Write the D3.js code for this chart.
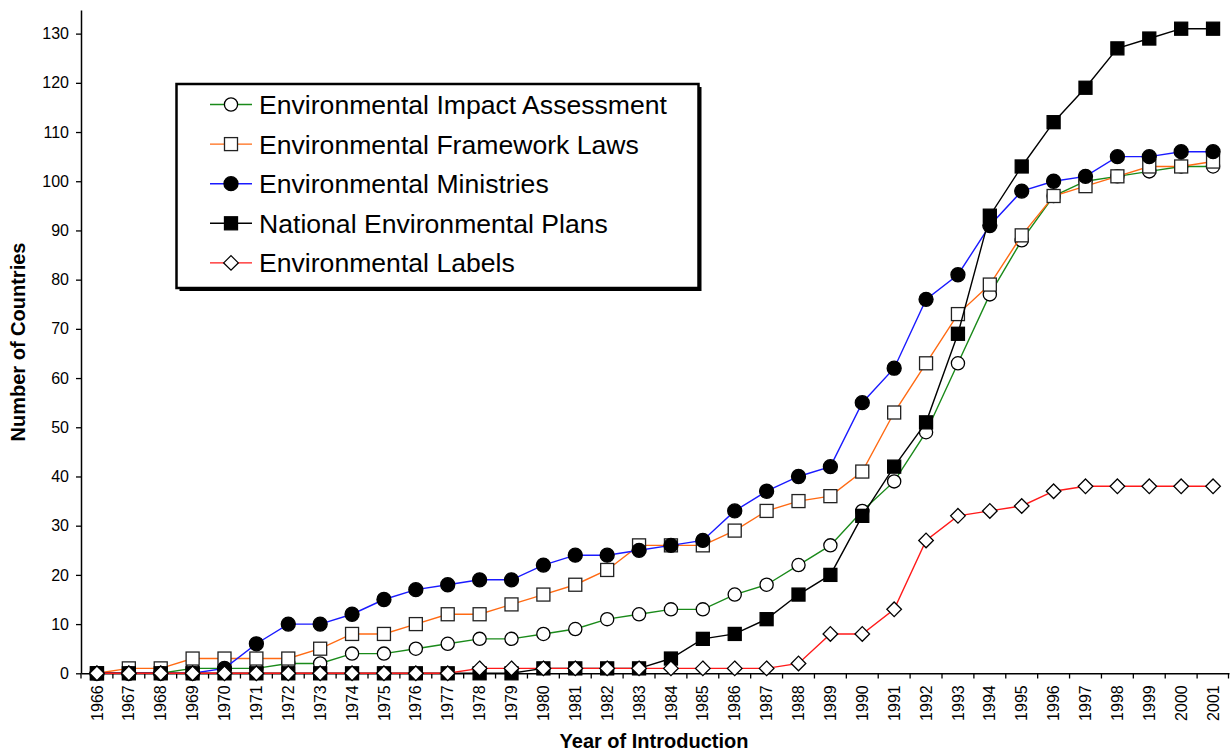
<!DOCTYPE html>
<html lang="en">
<head>
    <meta charset="UTF-8">
    <title>Environmental Policy Innovations</title>
    <script src="https://cdnjs.cloudflare.com/ajax/libs/d3/7.8.5/d3.min.js"></script>
    <style>
        body { margin: 0; background: #fff; }
        svg { display: block; font-family: "Liberation Sans", Arial, sans-serif; }
    </style>
</head>
<body>
    <div id="chart"></div>

    <script>
        // Years on the category axis
        const years = d3.range(1966, 2002);

        // Cumulative number of countries per year
        const eia = [0,0,0,1,1,1,2,2,4,4,5,6,7,7,8,9,11,12,13,13,16,18,22,26,33,39,49,63,77,88,97,100,101,102,103,103];
        const frameworkLaws = [0,1,1,3,3,3,3,5,8,8,10,12,12,14,16,18,21,26,26,26,29,33,35,36,41,53,63,73,79,89,97,99,101,103,103,104];
        const ministries = [0,0,0,0,1,6,10,10,12,15,17,18,19,19,22,24,24,25,26,27,33,37,40,42,55,62,76,81,91,98,100,101,105,105,106,106];
        const nationalPlans = [0,0,0,0,0,0,0,0,0,0,0,0,0,0,1,1,1,1,3,7,8,11,16,20,32,42,51,69,93,103,112,119,127,129,131,131];
        const labels = [0,0,0,0,0,0,0,0,0,0,0,0,1,1,1,1,1,1,1,1,1,1,2,8,8,13,27,32,33,34,37,38,38,38,38,38];

        const yTicks = d3.range(0, 131, 10);

        const seriesNames = ["Environmental Impact Assessment", "Environmental Framework Laws",
            "Environmental Ministries", "National Environmental Plans", "Environmental Labels"];

        const series = [
            { name: seriesNames[0], values: eia, color: "#1a8a1a", marker: "circle", fill: "#fff" },
            { name: seriesNames[1], values: frameworkLaws, color: "#ff6a13", marker: "square", fill: "#fff" },
            { name: seriesNames[2], values: ministries, color: "#1a1aff", marker: "circle", fill: "#000" },
            { name: seriesNames[3], values: nationalPlans, color: "#000", marker: "square", fill: "#000" },
            { name: seriesNames[4], values: labels, color: "#ff1a1a", marker: "diamond", fill: "#fff" }
        ];

        const W = 1231, H = 751;
        const svg = d3.select("#chart").append("svg")
            .attr("width", W)
            .attr("height", H);

        const x = d3.scaleBand()
            .domain(years)
            .range([81, 1229])
            .padding(0);

        const y = d3.scaleLinear()
            .domain([0, 134.8])
            .range([673.3, 10]);

        const cx = d => x(d) + x.bandwidth() / 2;

        // marker drawing
        function drawMarker(g, type, px, py, fill) {
            if (type === "circle") {
                g.append("circle")
                    .attr("cx", px).attr("cy", py)
                    .attr("r", fill === "#000" ? 7 : 6.6)
                    .attr("fill", fill)
                    .attr("stroke", "#000")
                    .attr("stroke-width", 1.3);
            } else if (type === "square") {
                g.append("rect")
                    .attr("x", px - 6.5).attr("y", py - 6.5)
                    .attr("width", 13).attr("height", 13)
                    .attr("fill", fill)
                    .attr("stroke", fill === "#000" ? "#000" : "#222")
                    .attr("stroke-width", 1.3);
            } else {
                const s = 7.3;
                g.append("path")
                    .attr("d", `M${px},${py - s}L${px + s},${py}L${px},${py + s}L${px - s},${py}Z`)
                    .attr("fill", fill)
                    .attr("stroke", "#000")
                    .attr("stroke-width", 1.3);
            }
        }

        // Y axis
        const yAxis = svg.append("g")
            .attr("transform", "translate(81,0)")
            .call(d3.axisLeft(y).tickValues(yTicks).tickSize(5).tickSizeOuter(0).tickPadding(7));
        yAxis.selectAll("text").style("font-size", "16px").attr("fill", "#000");
        yAxis.selectAll("line").attr("stroke", "#000").attr("stroke-width", 1.3);
        yAxis.select(".domain").attr("stroke", "#000").attr("stroke-width", 1.5);

        // X axis (labels centred on categories, ticks on boundaries)
        const xAxis = svg.append("g")
            .attr("transform", "translate(0,673.3)")
            .call(d3.axisBottom(x).tickSize(0).tickSizeOuter(0).tickPadding(0));
        xAxis.select(".domain").attr("stroke", "#000").attr("stroke-width", 1.5);
        xAxis.selectAll("text")
            .style("font-size", "16px")
            .attr("fill", "#000")
            .attr("transform", "rotate(-90)")
            .attr("text-anchor", "end")
            .attr("x", -12)
            .attr("y", 0)
            .attr("dy", "0.35em");

        svg.append("g").selectAll("line")
            .data(years.concat([2002]))
            .join("line")
            .attr("x1", d => d === 2002 ? x.range()[1] - 0.5 : x(d))
            .attr("x2", d => d === 2002 ? x.range()[1] - 0.5 : x(d))
            .attr("y1", 673.3)
            .attr("y2", 678.5)
            .attr("stroke", "#000")
            .attr("stroke-width", 1.3);

        // Series: line then markers, series by series
        const line = d3.line()
            .x((d, i) => cx(years[i]))
            .y(d => y(d));

        series.forEach(s => {
            const g = svg.append("g");
            g.append("path")
                .datum(s.values)
                .attr("d", line)
                .attr("fill", "none")
                .attr("stroke", s.color)
                .attr("stroke-width", 1.4);
            s.values.forEach((v, i) => drawMarker(g, s.marker, cx(years[i]), y(v), s.fill));
        });

        // Axis titles
        svg.append("text")
            .attr("x", 654)
            .attr("y", 748)
            .attr("text-anchor", "middle")
            .style("font-size", "20px")
            .style("font-weight", "bold")
            .text("Year of Introduction");

        svg.append("text")
            .attr("transform", "translate(25,342) rotate(-90)")
            .attr("text-anchor", "middle")
            .style("font-size", "20px")
            .style("font-weight", "bold")
            .text("Number of Countries");

        // Legend with drop shadow
        const legend = svg.append("g");
        legend.append("rect")
            .attr("x", 179.5).attr("y", 87)
            .attr("width", 522).attr("height", 204)
            .attr("fill", "#000");
        legend.append("rect")
            .attr("x", 176.5).attr("y", 84)
            .attr("width", 522).attr("height", 204)
            .attr("fill", "#fff")
            .attr("stroke", "#000")
            .attr("stroke-width", 2.5);

        series.forEach((s, i) => {
            const ly = 104.5 + i * 39.6;
            const g = legend.append("g");
            g.append("line")
                .attr("x1", 210).attr("x2", 252)
                .attr("y1", ly).attr("y2", ly)
                .attr("stroke", s.color)
                .attr("stroke-width", 1.4);
            drawMarker(g, s.marker, 231, ly, s.fill);
            g.append("text")
                .attr("x", 259)
                .attr("y", ly)
                .attr("dy", "0.36em")
                .style("font-size", "26.6px")
                .text(s.name);
        });
    </script>
</body>
</html>
